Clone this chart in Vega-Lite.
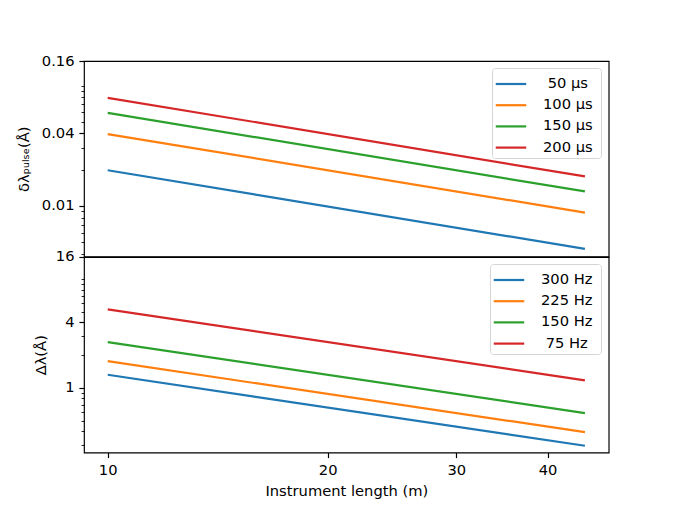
{
  "$schema": "https://vega.github.io/schema/vega-lite/v6.json",
  "padding": {"left": 15, "top": 52, "right": 10, "bottom": 10},
  "background": "white",
  "bounds": "flush",
  "config": {
    "font": "DejaVu Sans",
    "view": {"stroke": "black", "strokeWidth": 1.18},
    "axis": {
      "domain": false, "grid": false,
      "labelFont": "DejaVu Sans", "titleFont": "DejaVu Sans",
      "labelFontSize": 14.7, "titleFontSize": 14.7, "titleFontWeight": "normal",
      "labelColor": "black", "titleColor": "black", "tickColor": "black",
      "tickWidth": 1.18, "tickSize": 5.1, "labelPadding": 4.9,
      "labelFlush": false, "labelOverlap": false
    },
    "legend": {
      "orient": "top-right", "offset": 7.35, "padding": 3, "rowPadding": 1.2,
      "symbolType": "M-1.3,0H1.3", "symbolSize": 550, "symbolStrokeWidth": 2.2,
      "symbolOffset": 3,
      "labelFont": "DejaVu Sans", "labelFontSize": 14.7, "labelColor": "black",
      "labelOffset": 19, "strokeColor": "#d5d5d5", "fillColor": "white",
      "cornerRadius": 3, "titlePadding": 0
    }
  },
  "spacing": 0,
  "resolve": {"scale": {"color": "independent"}},
  "vconcat": [
    {
      "width": 524.7, "height": 195.5,
      "data": {"values": [
        {"L": 10, "v": 0.01978, "s": "\u200b\u00a050 μs\u00a0\u200b"},
        {"L": 45, "v": 0.004396, "s": "\u200b\u00a050 μs\u00a0\u200b"},
        {"L": 10, "v": 0.03956, "s": "100 μs\u00a0\u200b"},
        {"L": 45, "v": 0.008791, "s": "100 μs\u00a0\u200b"},
        {"L": 10, "v": 0.05934, "s": "150 μs\u00a0\u200b"},
        {"L": 45, "v": 0.01319, "s": "150 μs\u00a0\u200b"},
        {"L": 10, "v": 0.07912, "s": "200 μs\u00a0\u200b"},
        {"L": 45, "v": 0.01758, "s": "200 μs\u00a0\u200b"}
      ]},
      "mark": {"type": "line", "strokeWidth": 2.2, "clip": true},
      "encoding": {
        "x": {"field": "L", "type": "quantitative",
              "scale": {"type": "log", "domain": [9.28, 48.5], "nice": false, "zero": false},
              "axis": null},
        "y": {"field": "v", "type": "quantitative",
              "scale": {"type": "log", "domain": [0.0038, 0.16], "nice": false, "zero": false},
              "axis": {
                "title": "δλₚᵤₗₛₑ(Å)", "titlePadding": 10,
                "values": [0.004, 0.005, 0.006, 0.007, 0.008, 0.009, 0.01, 0.02, 0.03, 0.04, 0.05, 0.06, 0.07, 0.08, 0.09, 0.1, 0.16],
                "labelExpr": "(datum.value == 0.01 || datum.value == 0.04 || datum.value == 0.16) ? format(datum.value, '~g') : ''",
                "tickSize": {"condition": {"test": "datum.value == 0.01 || datum.value == 0.04 || datum.value == 0.16", "value": 5.1}, "value": 2.9},
                "tickWidth": {"condition": {"test": "datum.value == 0.01 || datum.value == 0.04 || datum.value == 0.16", "value": 1.18}, "value": 0.88}
              }},
        "color": {"field": "s", "type": "nominal",
                  "scale": {"domain": ["\u200b\u00a050 μs\u00a0\u200b", "100 μs\u00a0\u200b", "150 μs\u00a0\u200b", "200 μs\u00a0\u200b"], "range": ["#1f77b4", "#ff7f0e", "#2ca02c", "#d62728"]},
                  "legend": {"title": null}}
      }
    },
    {
      "width": 524.7, "height": 195.5,
      "data": {"values": [
        {"L": 10, "v": 1.3187, "s": "300 Hz\u00a0\u200b"},
        {"L": 45, "v": 0.29304, "s": "300 Hz\u00a0\u200b"},
        {"L": 10, "v": 1.7582, "s": "225 Hz\u00a0\u200b"},
        {"L": 45, "v": 0.39072, "s": "225 Hz\u00a0\u200b"},
        {"L": 10, "v": 2.6373, "s": "150 Hz\u00a0\u200b"},
        {"L": 45, "v": 0.58607, "s": "150 Hz\u00a0\u200b"},
        {"L": 10, "v": 5.2747, "s": "\u200b\u00a075 Hz\u00a0\u200b"},
        {"L": 45, "v": 1.17215, "s": "\u200b\u00a075 Hz\u00a0\u200b"}
      ]},
      "mark": {"type": "line", "strokeWidth": 2.2, "clip": true},
      "encoding": {
        "x": {"field": "L", "type": "quantitative",
              "scale": {"type": "log", "domain": [9.28, 48.5], "nice": false, "zero": false},
              "axis": {"title": "Instrument length (m)", "values": [10, 20, 30, 40], "format": "d", "titlePadding": 6}},
        "y": {"field": "v", "type": "quantitative",
              "scale": {"type": "log", "domain": [0.254, 16], "nice": false, "zero": false},
              "axis": {
                "title": "Δλ(Å)", "titlePadding": 7,
                "values": [0.3, 0.4, 0.5, 0.6, 0.7, 0.8, 0.9, 1, 2, 3, 4, 5, 6, 7, 8, 9, 10, 16],
                "labelExpr": "(datum.value == 1 || datum.value == 4 || datum.value == 16) ? format(datum.value, '~g') : ''",
                "tickSize": {"condition": {"test": "datum.value == 1 || datum.value == 4 || datum.value == 16", "value": 5.1}, "value": 2.9},
                "tickWidth": {"condition": {"test": "datum.value == 1 || datum.value == 4 || datum.value == 16", "value": 1.18}, "value": 0.88}
              }},
        "color": {"field": "s", "type": "nominal",
                  "scale": {"domain": ["300 Hz\u00a0\u200b", "225 Hz\u00a0\u200b", "150 Hz\u00a0\u200b", "\u200b\u00a075 Hz\u00a0\u200b"], "range": ["#1f77b4", "#ff7f0e", "#2ca02c", "#d62728"]},
                  "legend": {"title": null}}
      }
    }
  ]
}
